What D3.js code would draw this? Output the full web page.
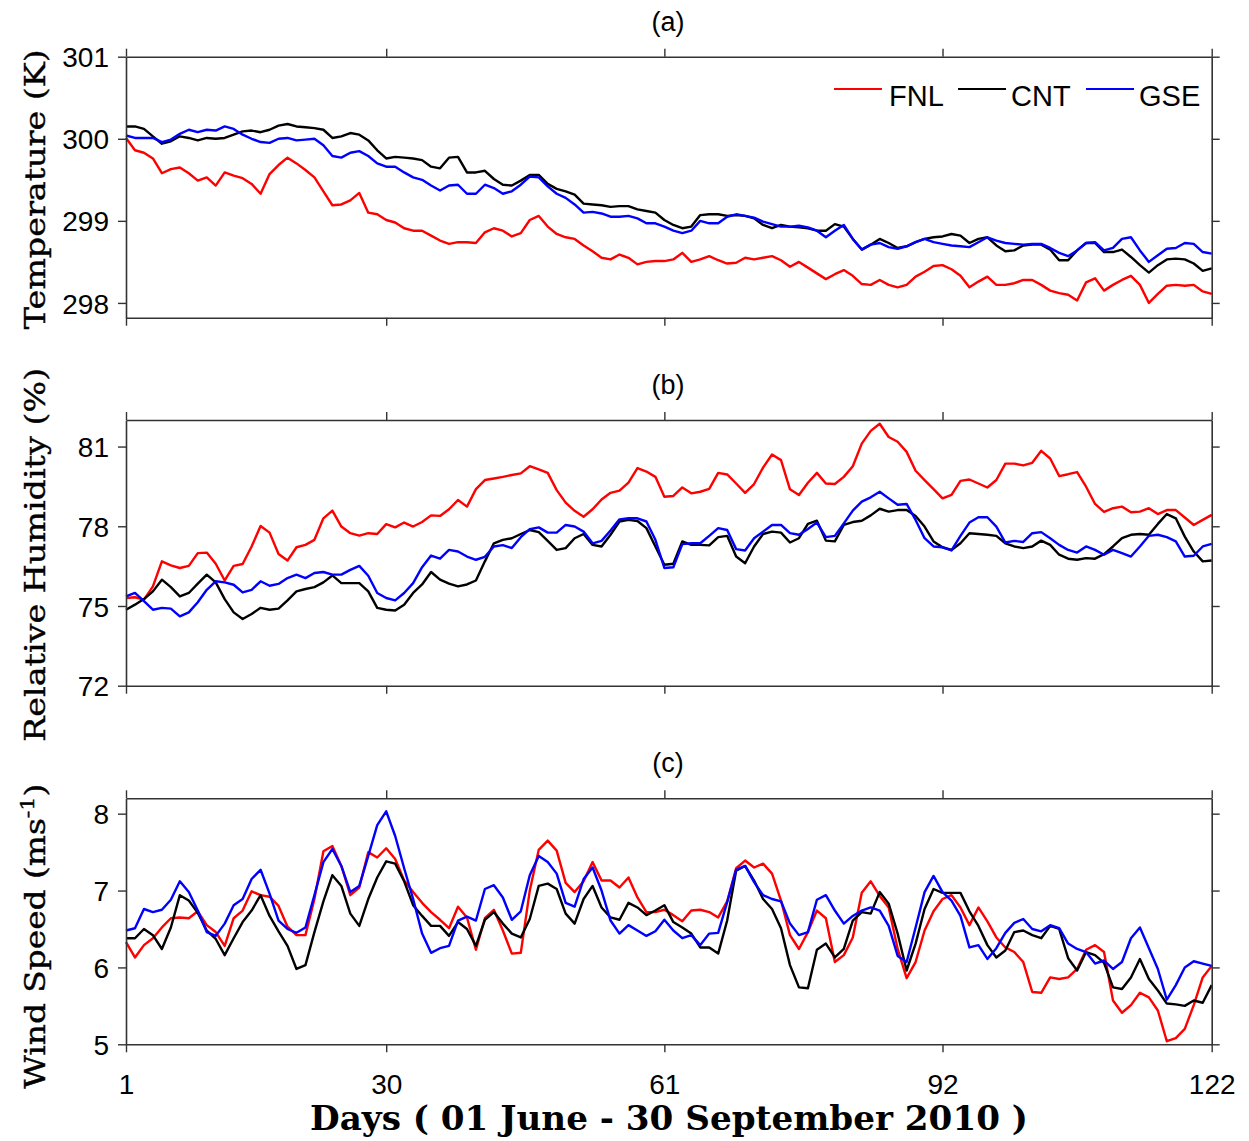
<!DOCTYPE html>
<html><head><meta charset="utf-8">
<script src="https://cdn.jsdelivr.net/npm/d3@7/dist/d3.min.js"></script>
<style>body{margin:0;background:#fff}svg{display:block}</style>
</head><body><svg id="chart" width="1249" height="1141"></svg>
<script>
// ---------- DATA ----------
const days = d3.range(1, 123);
const xTickDays = [1, 30, 61, 92, 122];
const seriesNames = ["FNL", "CNT", "GSE"];

const tempTicks = [298, 299, 300, 301];
const rhTicks = [72, 75, 78, 81];
const wsTicks = [5, 6, 7, 8];

const tempFNL = [300.01,299.86,299.83,299.76,299.58,299.63,299.65,299.58,299.49,299.53,299.43,299.59,299.55,299.52,299.45,299.33,299.57,299.68,299.77,299.70,299.62,299.53,299.36,299.19,299.20,299.25,299.34,299.10,299.08,299.01,298.98,298.91,298.88,298.88,298.82,298.76,298.72,298.74,298.74,298.73,298.86,
298.91,298.88,298.81,298.85,299.01,299.06,298.93,298.84,298.80,298.78,298.70,298.63,298.55,298.53,298.59,298.55,298.47,298.50,298.51,298.51,298.53,298.61,298.50,298.53,298.57,298.52,298.48,298.49,298.55,298.53,298.55,298.57,298.52,298.44,298.50,298.43,298.36,298.29,298.35,298.40,
298.33,298.23,298.22,298.28,298.22,298.19,298.22,298.32,298.38,298.45,298.46,298.41,298.33,298.19,298.26,298.32,298.22,298.22,298.24,298.28,298.28,298.22,298.15,298.12,298.10,298.03,298.25,298.30,298.15,298.22,298.28,298.33,298.22,298.00,298.11,298.21,298.22,298.21,298.22,298.14,298.11];
const tempCNT = [300.15,300.15,300.12,300.03,299.94,299.97,300.03,300.01,299.98,300.01,300.00,300.01,300.05,300.09,300.10,300.08,300.11,300.16,300.18,300.15,300.14,300.13,300.11,300.01,300.03,300.07,300.05,299.98,299.86,299.76,299.78,299.77,299.76,299.74,299.66,299.64,299.77,299.78,299.59,299.59,299.61,
299.51,299.44,299.43,299.49,299.56,299.56,299.45,299.39,299.36,299.32,299.21,299.20,299.19,299.17,299.18,299.18,299.14,299.12,299.10,299.01,298.95,298.91,298.93,299.07,299.08,299.08,299.06,299.07,299.06,299.03,298.95,298.91,298.95,298.93,298.92,298.91,298.88,298.88,298.96,298.93,
298.78,298.65,298.71,298.78,298.73,298.67,298.69,298.74,298.78,298.80,298.81,298.84,298.82,298.73,298.78,298.80,298.70,298.63,298.64,298.70,298.71,298.71,298.65,298.52,298.52,298.64,298.73,298.73,298.62,298.62,298.65,298.56,298.46,298.37,298.46,298.53,298.54,298.53,298.48,298.39,298.42];
const tempGSE = [300.04,300.01,300.01,300.01,299.96,299.99,300.06,300.11,300.08,300.11,300.10,300.15,300.12,300.05,300.00,299.96,299.95,300.00,300.01,299.98,299.99,300.00,299.92,299.79,299.77,299.83,299.85,299.79,299.70,299.66,299.66,299.59,299.53,299.50,299.43,299.37,299.43,299.44,299.33,299.33,299.44,
299.40,299.33,299.36,299.44,299.54,299.53,299.42,299.33,299.28,299.20,299.10,299.11,299.09,299.05,299.05,299.06,299.03,298.97,298.97,298.93,298.88,298.85,298.88,299.00,298.97,298.97,299.05,299.08,299.06,299.04,298.99,298.96,298.93,298.93,298.94,298.92,298.88,298.80,298.88,298.95,
298.78,298.65,298.71,298.73,298.68,298.66,298.69,298.74,298.78,298.74,298.72,298.70,298.69,298.68,298.74,298.80,298.76,298.73,298.72,298.71,298.72,298.72,298.67,298.61,298.57,298.64,298.73,298.74,298.64,298.67,298.78,298.80,298.64,298.50,298.58,298.66,298.67,298.73,298.72,298.62,298.60];

const rhFNL = [75.30,75.33,75.24,75.74,76.68,76.53,76.43,76.51,76.99,77.01,76.59,75.96,76.51,76.58,77.24,78.01,77.76,76.96,76.71,77.21,77.30,77.49,78.30,78.59,77.99,77.74,77.65,77.74,77.71,78.08,77.96,78.14,77.99,78.16,78.41,78.39,78.64,78.99,78.74,79.40,79.74,
79.80,79.86,79.93,79.99,80.26,80.14,80.01,79.36,78.89,78.58,78.36,78.64,79.01,79.26,79.34,79.64,80.19,80.06,79.86,79.11,79.14,79.46,79.24,79.30,79.41,80.01,79.95,79.61,79.26,79.59,80.21,80.70,80.49,79.39,79.18,79.64,80.01,79.61,79.59,79.86,
80.26,81.11,81.59,81.86,81.36,81.18,80.80,80.09,79.74,79.40,79.05,79.18,79.71,79.76,79.61,79.46,79.74,80.36,80.36,80.29,80.39,80.84,80.55,79.89,79.96,80.04,79.49,78.84,78.54,78.68,78.74,78.53,78.55,78.68,78.46,78.61,78.61,78.33,78.05,78.24,78.43];
const rhCNT = [74.86,75.05,75.26,75.55,75.99,75.71,75.36,75.49,75.84,76.18,75.89,75.26,74.76,74.51,74.70,74.93,74.86,74.90,75.21,75.55,75.64,75.71,75.89,76.15,75.86,75.86,75.86,75.55,74.93,74.86,74.83,75.05,75.49,75.81,76.28,75.99,75.84,75.74,75.81,75.96,76.68,
77.36,77.49,77.55,77.71,77.86,77.78,77.45,77.11,77.18,77.55,77.71,77.30,77.24,77.68,78.18,78.24,78.20,77.93,77.24,76.55,76.59,77.43,77.30,77.30,77.28,77.59,77.64,76.86,76.61,77.24,77.71,77.80,77.76,77.39,77.55,78.09,78.21,77.46,77.43,78.05,
78.16,78.21,78.41,78.66,78.55,78.61,78.61,78.39,77.99,77.43,77.21,77.11,77.36,77.74,77.71,77.68,77.64,77.36,77.24,77.18,77.24,77.46,77.30,76.93,76.78,76.74,76.80,76.78,76.95,77.24,77.55,77.68,77.71,77.68,78.09,78.46,78.30,77.61,77.05,76.68,76.71];
const rhGSE = [75.36,75.49,75.18,74.86,74.93,74.90,74.61,74.76,75.14,75.61,75.93,75.89,75.80,75.51,75.61,75.93,75.76,75.83,76.05,76.18,76.05,76.24,76.28,76.18,76.18,76.36,76.51,76.14,75.49,75.30,75.21,75.49,75.86,76.46,76.90,76.78,77.11,77.05,76.86,76.74,76.85,
77.24,77.29,77.18,77.59,77.89,77.96,77.76,77.76,78.05,77.99,77.80,77.36,77.45,77.84,78.26,78.30,78.30,78.18,77.49,76.43,76.46,77.33,77.36,77.36,77.64,77.93,77.86,77.14,77.09,77.55,77.80,78.05,78.05,77.74,77.68,77.90,78.14,77.59,77.64,78.11,
78.59,78.93,79.09,79.30,79.05,78.81,78.84,78.24,77.55,77.24,77.21,77.09,77.64,78.14,78.34,78.34,77.99,77.39,77.45,77.41,77.74,77.78,77.55,77.30,77.11,77.01,77.24,77.11,76.93,77.11,76.99,76.86,77.24,77.64,77.68,77.59,77.43,76.86,76.89,77.24,77.34];

const wsFNL = [6.33,6.13,6.29,6.38,6.52,6.64,6.65,6.64,6.73,6.55,6.46,6.28,6.64,6.74,6.99,6.94,6.92,6.80,6.53,6.42,6.42,6.89,7.51,7.58,7.32,6.94,7.04,7.50,7.43,7.55,7.41,7.13,6.98,6.84,6.72,6.62,6.51,6.79,6.65,6.23,6.64,
6.75,6.48,6.18,6.19,7.00,7.53,7.65,7.52,7.10,6.98,7.12,7.37,7.13,7.13,7.04,7.17,6.91,6.72,6.72,6.75,6.68,6.60,6.74,6.75,6.72,6.65,6.86,7.29,7.39,7.30,7.35,7.22,6.87,6.42,6.24,6.46,6.74,6.64,6.07,6.16,
6.39,6.97,7.12,6.93,6.78,6.24,5.86,6.07,6.48,6.73,6.89,6.94,6.78,6.55,6.78,6.60,6.39,6.26,6.20,6.07,5.68,5.67,5.87,5.85,5.87,5.98,6.23,6.29,6.20,5.57,5.41,5.51,5.67,5.61,5.44,5.04,5.08,5.20,5.51,5.87,6.02];
const wsCNT = [6.38,6.38,6.50,6.42,6.24,6.52,6.94,6.87,6.71,6.48,6.37,6.16,6.38,6.59,6.74,6.94,6.67,6.47,6.28,5.98,6.03,6.46,6.86,7.20,7.06,6.70,6.54,6.89,7.17,7.38,7.35,7.12,6.81,6.67,6.54,6.54,6.41,6.59,6.50,6.28,6.62,
6.72,6.57,6.44,6.39,6.63,7.06,7.09,7.02,6.70,6.57,6.89,7.06,6.78,6.65,6.62,6.84,6.78,6.68,6.74,6.81,6.59,6.52,6.44,6.26,6.26,6.18,6.61,7.26,7.32,7.13,6.89,6.76,6.51,6.03,5.74,5.73,6.23,6.31,6.13,6.24,
6.61,6.72,6.70,6.98,6.83,6.44,5.96,6.31,6.76,7.02,6.97,6.97,6.97,6.73,6.54,6.29,6.13,6.22,6.46,6.48,6.42,6.38,6.54,6.50,6.12,5.96,6.20,6.16,6.06,5.74,5.72,5.87,6.11,5.85,5.70,5.53,5.52,5.50,5.57,5.54,5.77];
const wsGSE = [6.48,6.51,6.76,6.72,6.75,6.88,7.12,6.98,6.74,6.46,6.41,6.57,6.81,6.89,7.15,7.27,6.96,6.61,6.50,6.45,6.52,6.94,7.37,7.54,7.32,6.98,7.06,7.45,7.85,8.03,7.71,7.29,6.89,6.44,6.19,6.25,6.28,6.61,6.66,6.61,7.02,
7.07,6.91,6.62,6.73,7.20,7.45,7.37,7.22,6.84,6.79,7.15,7.30,7.00,6.61,6.44,6.55,6.48,6.41,6.47,6.62,6.48,6.38,6.42,6.29,6.44,6.45,6.85,7.27,7.32,7.11,6.94,6.89,6.86,6.57,6.42,6.46,6.88,6.94,6.74,6.57,
6.67,6.74,6.78,6.74,6.54,6.15,6.07,6.52,6.98,7.19,6.98,6.87,6.67,6.26,6.29,6.11,6.25,6.45,6.58,6.63,6.50,6.47,6.55,6.51,6.31,6.24,6.20,6.05,6.09,5.98,6.07,6.38,6.52,6.25,5.98,5.58,5.77,6.00,6.08,6.05,6.02];

// ---------- LAYOUT ----------
const colors = ["#ff0000", "#000000", "#0000ff"];
const svg = d3.select("#chart");
svg.append("rect").attr("width", 1249).attr("height", 1141).attr("fill", "#fff");

const x = d3.scaleLinear().domain([1, 122]).range([126, 1211.7]);
const tickFont = "'Liberation Sans', Arial, sans-serif";
const labelFont = "'DejaVu Serif', 'Liberation Serif', serif";

const panels = [
  {top: 56.7, bottom: 317.7, domain: [297.82, 301], ticks: tempTicks, data: [tempFNL, tempCNT, tempGSE], title: "(a)", titleY: 31, label: "Temperature (K)", labelLen: 280},
  {top: 420, bottom: 685.7, domain: [72, 82], ticks: rhTicks, data: [rhFNL, rhCNT, rhGSE], title: "(b)", titleY: 394, label: "Relative Humidity (%)", labelLen: 374},
  {top: 798.3, bottom: 1044.3, domain: [5, 8.2], ticks: wsTicks, data: [wsFNL, wsCNT, wsGSE], title: "(c)", titleY: 772, label: null, labelLen: 305}
];

panels.forEach((p, pi) => {
  const y = d3.scaleLinear().domain(p.domain).range([p.bottom, p.top]);
  const g = svg.append("g");
  const isLast = pi === panels.length - 1;

  // lines
  const line = d3.line().x((d, i) => x(days[i])).y(d => y(d));
  p.data.forEach((arr, si) => {
    g.append("path").datum(arr).attr("d", line)
      .attr("fill", "none").attr("stroke", colors[si]).attr("stroke-width", 2.4)
      .attr("stroke-linejoin", "round");
  });

  // axes
  const left = d3.axisLeft(y).tickValues(p.ticks).tickSize(8).tickSizeOuter(0).tickFormat(d3.format("d"));
  const right = d3.axisRight(y).tickValues(p.ticks).tickSize(8).tickSizeOuter(0).tickFormat("");
  const top = d3.axisTop(x).tickValues(xTickDays).tickSize(8).tickSizeOuter(0).tickFormat("");
  const bottom = d3.axisBottom(x).tickValues(xTickDays).tickSize(8).tickSizeOuter(0).tickFormat(isLast ? d3.format("d") : "");

  const axes = [
    g.append("g").attr("transform", `translate(${x.range()[0]},0)`).call(left),
    g.append("g").attr("transform", `translate(${x.range()[1]},0)`).call(right),
    g.append("g").attr("transform", `translate(0,${p.top})`).call(top),
    g.append("g").attr("transform", `translate(0,${p.bottom})`).call(bottom)
  ];
  axes.forEach(a => {
    a.select(".domain").attr("stroke", "#333").attr("stroke-width", 1.6);
    a.selectAll(".tick line").attr("stroke", "#333").attr("stroke-width", 1.4);
    a.selectAll("text").attr("font-family", tickFont).attr("font-size", 28).attr("fill", "#000");
  });
  axes[0].selectAll("text").attr("x", -17).attr("dy", "0.36em");
  axes[3].selectAll("text").attr("y", 30).attr("dy", "0.71em");

  // panel title
  svg.append("text").attr("x", 668).attr("y", p.titleY).attr("text-anchor", "middle")
    .attr("font-family", tickFont).attr("font-size", 27).text(p.title);

  // y label
  const cy = (p.top + p.bottom) / 2 + (p.label ? 2 : 15);
  const lab = svg.append("text")
    .attr("transform", `translate(45,${cy}) rotate(-90)`)
    .attr("text-anchor", "middle")
    .attr("font-family", labelFont).attr("font-size", 28)
    .attr("stroke", "#000").attr("stroke-width", 0.4)
    .attr("textLength", p.labelLen).attr("lengthAdjust", "spacingAndGlyphs");
  if (p.label) {
    lab.text(p.label);
  } else {
    lab.append("tspan").text("Wind Speed (ms");
    lab.append("tspan").attr("dy", -11).attr("font-size", 19).text("-1");
    lab.append("tspan").attr("dy", 11).text(")");
  }
});

// legend
const legX = [834, 958, 1086];
const legTextX = [889, 1011, 1139];
seriesNames.forEach((n, i) => {
  svg.append("line").attr("x1", legX[i]).attr("x2", legX[i] + 48).attr("y1", 89).attr("y2", 89)
    .attr("stroke", colors[i]).attr("stroke-width", 2.2);
  svg.append("text").attr("x", legTextX[i]).attr("y", 106).attr("font-family", tickFont)
    .attr("font-size", 29).text(n);
});

// x title
svg.append("text").attr("x", 669).attr("y", 1130).attr("text-anchor", "middle")
  .attr("font-family", labelFont).attr("font-weight", "bold").attr("font-size", 34)
  .attr("textLength", 718).attr("lengthAdjust", "spacingAndGlyphs")
  .text("Days ( 01 June - 30 September 2010 )");
</script></body></html>
